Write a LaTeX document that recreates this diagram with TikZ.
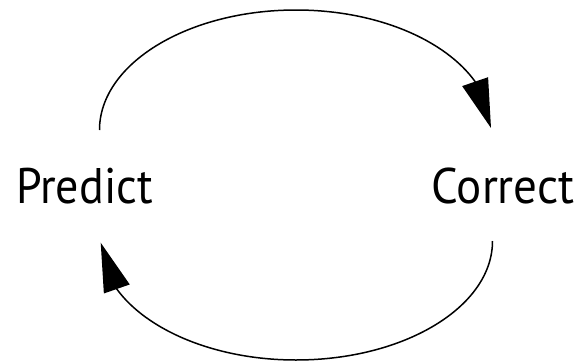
\documentclass[tikz,border=0pt]{standalone}
\usepackage{fontspec}
\setmainfont{PT Sans}
\usetikzlibrary{arrows.meta,bending}
\begin{document}
\begin{tikzpicture}[x=1pt,y=-1pt,
  lbl/.style={font=\fontsize{50}{60}\selectfont, inner sep=0pt, anchor=base},
  loop/.style={line width=1.5pt, draw=black, -{Triangle[length=49pt,width=27pt,flex]}}]
\useasboundingbox (0,0) rectangle (587,362);
\node[lbl] (P) at (84.5,203) {\scalebox{0.92}[1]{Predict}};
\node[lbl] (C) at (503,203) {\scalebox{0.94}[1]{Correct}};
\coordinate (ps) at (99.5,130);
\coordinate (ce) at (491,128);
\coordinate (cs) at (492.5,241);
\coordinate (pe) at (100.7,242.7);
\draw[loop] (ps) .. controls (99.5,63.8) and (187.8,10) .. (296,10)
  .. controls (404,10) and (491,63.8) .. (ce);
\draw[loop] (cs) .. controls (492.5,306.7) and (404.5,360) .. (296,360)
  .. controls (188.4,360) and (100.7,306.7) .. (pe);
\end{tikzpicture}
\end{document}
